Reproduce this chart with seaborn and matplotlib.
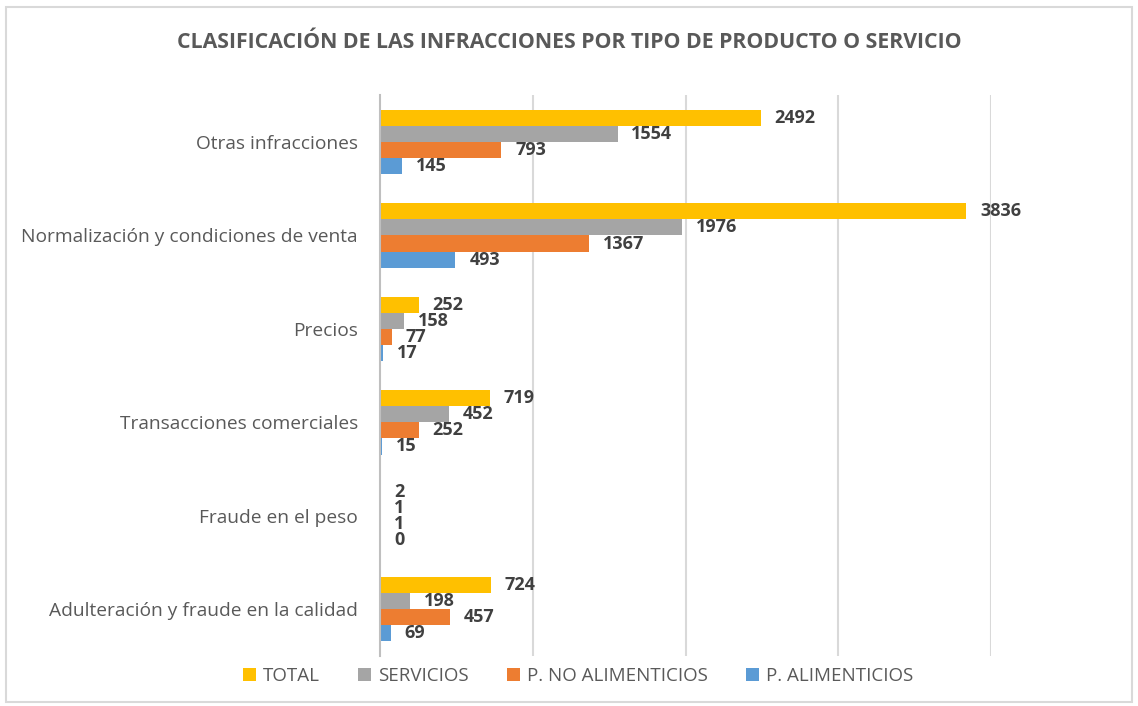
import pandas as pd
import seaborn as sns
import matplotlib.pyplot as plt
from matplotlib.patches import Rectangle

# Categories (top to bottom) and series
categories = ['Otras infracciones', 'Normalización y condiciones de venta', 'Precios',
              'Transacciones comerciales', 'Fraude en el peso', 'Adulteración y fraude en la calidad']
series = ['TOTAL', 'SERVICIOS', 'P. NO ALIMENTICIOS', 'P. ALIMENTICIOS']
total = [2492, 3836, 252, 719, 2, 724]
servicios = [1554, 1976, 158, 452, 1, 198]
no_alimenticios = [793, 1367, 77, 252, 1, 457]
alimenticios = [145, 493, 17, 15, 0, 69]
colors = ['#FFC000', '#A5A5A5', '#ED7D31', '#5B9BD5']

# Long-form table for seaborn
rows = []
for s, vals in zip(series, [total, servicios, no_alimenticios, alimenticios]):
    for c, v in zip(categories, vals):
        rows.append({'Categoria': c, 'Serie': s, 'Valor': v})
df = pd.DataFrame(rows)

sns.set_style('white')
plt.rcParams['font.family'] = ['Open Sans', 'DejaVu Sans']

fig = plt.figure(figsize=(11.38, 7.06), dpi=100)
ax = fig.add_axes([0.334, 0.071, 0.537, 0.794])

sns.barplot(data=df, y='Categoria', x='Valor', hue='Serie', order=categories,
            hue_order=series, palette=colors, width=0.69, saturation=1,
            errorbar=None, linewidth=0, ax=ax)

# Data labels
for cont in ax.containers:
    ax.bar_label(cont, padding=10, fontsize=13, fontweight='bold', color='#404040')

ax.set_xlim(0, 4000)
ax.set_xticks([1000, 2000, 3000, 4000])
ax.set_xticklabels([])
ax.tick_params(axis='both', length=0)
ax.tick_params(axis='y', labelsize=13.8, labelcolor='#595959', pad=16)
ax.grid(axis='x', color='#D9D9D9', linewidth=1.5)
ax.set_axisbelow(True)
for sp in ['top', 'right', 'bottom']:
    ax.spines[sp].set_visible(False)
ax.spines['left'].set_color('#BFBFBF')
ax.spines['left'].set_linewidth(1.5)
ax.set_xlabel('')
ax.set_ylabel('')

# Legend at bottom
handles, labels = ax.get_legend_handles_labels()
ax.legend_.remove()
fig.legend(handles, labels, loc='center', bbox_to_anchor=(0.508, 0.043), ncol=4,
           frameon=False, fontsize=13.5, labelcolor='#595959', handlelength=0.7,
           handleheight=0.7, handletextpad=0.4, columnspacing=2.0)

fig.suptitle('CLASIFICACIÓN DE LAS INFRACCIONES POR TIPO DE PRODUCTO O SERVICIO',
             x=0.5, y=0.94, va='center', fontsize=15.3, fontweight='bold', color='#595959')

# Chart border
fig.patches.append(Rectangle((0.005, 0.005), 0.99, 0.985, transform=fig.transFigure,
                             fill=False, edgecolor='#D9D9D9', linewidth=1.5))

fig.savefig('out.png', dpi=100)
